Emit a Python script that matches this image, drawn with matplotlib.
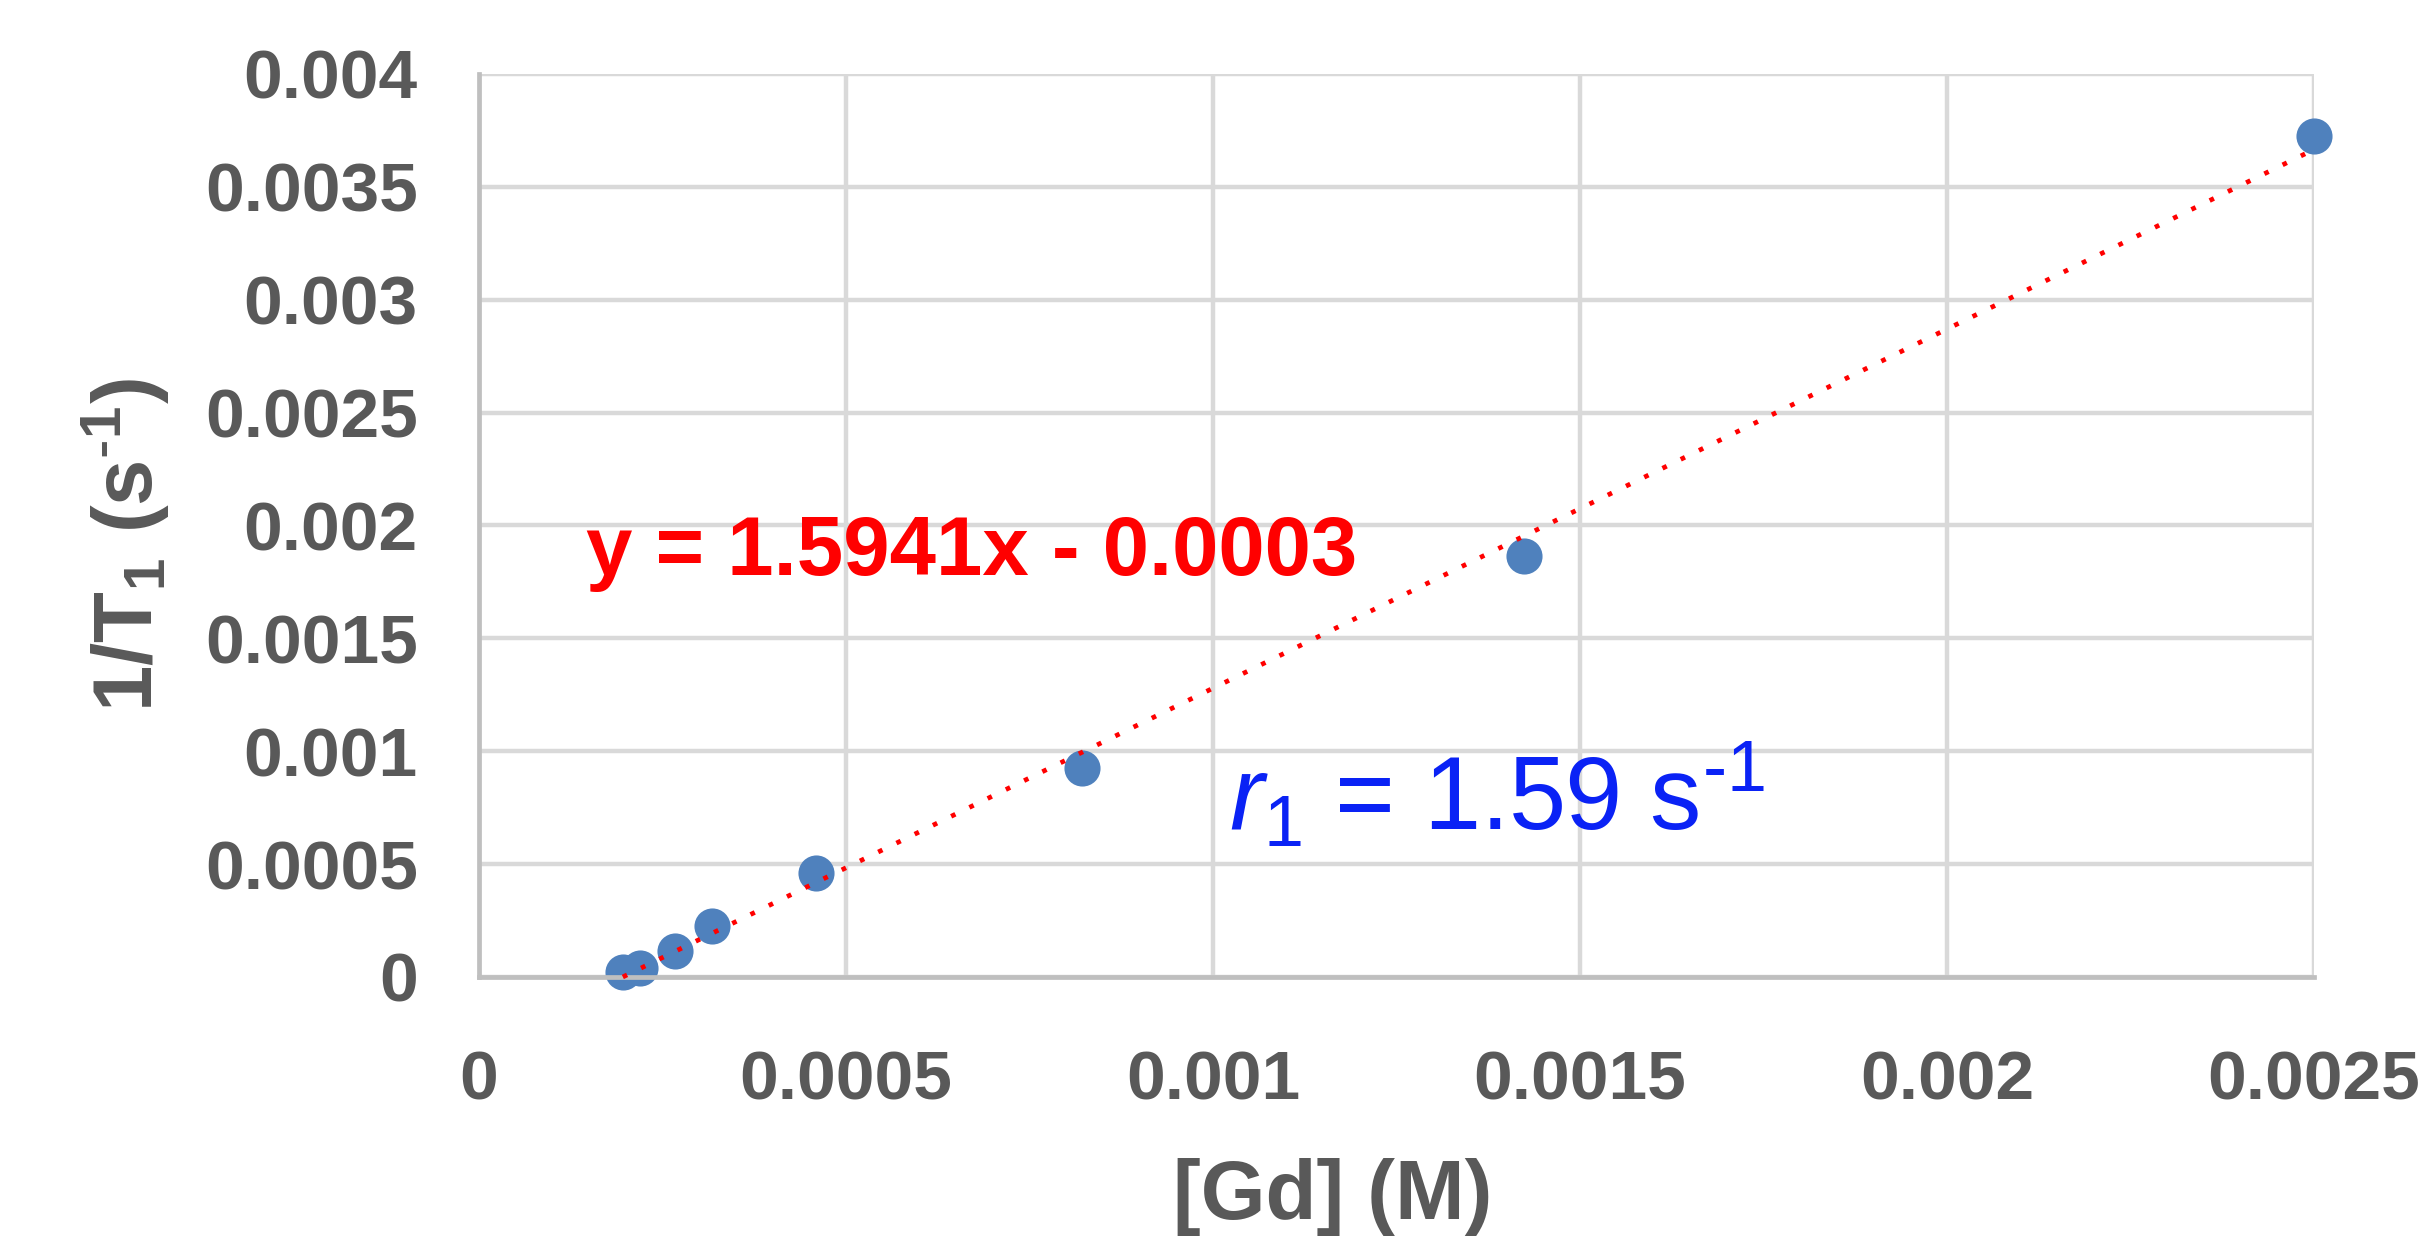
import numpy as np
import matplotlib
matplotlib.use("Agg")
import matplotlib.pyplot as plt

# data
gd_conc = [0.000196, 0.000219, 0.000267, 0.000318, 0.000459, 0.000821, 0.001424, 0.0025]
inv_t1 = [0.00002, 0.00004, 0.000116, 0.000226, 0.000459, 0.000925, 0.001863, 0.003726]

x_ticks = [0, 0.0005, 0.001, 0.0015, 0.002, 0.0025]
x_tick_labels = ["0", "0.0005", "0.001", "0.0015", "0.002", "0.0025"]
y_ticks = [0, 0.0005, 0.001, 0.0015, 0.002, 0.0025, 0.003, 0.0035, 0.004]
y_tick_labels = ["0", "0.0005", "0.001", "0.0015", "0.002", "0.0025", "0.003", "0.0035", "0.004"]

equation_text = "y = 1.5941x - 0.0003"
r1_text = r"$\mathit{r}_\mathrm{1}$ = 1.59 s$^{\text{-1}}$"

TEXT_GREY = "#595959"
GRID_GREY = "#d9d9d9"
AXIS_GREY = "#bfbfbf"
POINT_BLUE = "#4f81bd"

plt.rcParams["font.family"] = ["Liberation Sans", "DejaVu Sans"]
plt.rcParams["mathtext.fontset"] = "custom"
plt.rcParams["mathtext.rm"] = "Liberation Sans"
plt.rcParams["mathtext.it"] = "Liberation Sans:italic"
plt.rcParams["mathtext.bf"] = "Liberation Sans:bold"


def main() -> None:
    fig = plt.figure(figsize=(24.24, 12.39), dpi=100)
    ax = fig.add_axes([0.1976, 0.2115, 0.7570, 0.7288])

    ax.set_xlim(0, 0.0025)
    ax.set_ylim(0, 0.004)
    ax.set_xticks(x_ticks)
    ax.set_xticklabels(x_tick_labels)
    ax.set_yticks(y_ticks)
    ax.set_yticklabels(y_tick_labels)

    ax.grid(True, color=GRID_GREY, linewidth=3.2, zorder=0)
    ax.set_axisbelow(True)
    for side in ("top", "right"):
        ax.spines[side].set_visible(False)
    for side in ("left", "bottom"):
        ax.spines[side].set_color(AXIS_GREY)
        ax.spines[side].set_linewidth(3.4)

    ax.tick_params(axis="x", length=0, pad=52, labelsize=50, labelcolor=TEXT_GREY)
    ax.tick_params(axis="y", length=0, pad=44, labelsize=50, labelcolor=TEXT_GREY)
    for lbl in ax.get_xticklabels() + ax.get_yticklabels():
        lbl.set_fontweight("bold")

    # linear fit, drawn over the data range like the spreadsheet trendline
    slope, intercept = np.polyfit(gd_conc, inv_t1, 1)
    fit_x = np.array([min(gd_conc), max(gd_conc)])
    ax.plot(fit_x, slope * fit_x + intercept, color="#ff0000", linewidth=3.4,
            linestyle=(0, (1, 3.3)), zorder=3, clip_on=False)

    ax.plot(gd_conc, inv_t1, linestyle="none", marker="o", markersize=26,
            color=POINT_BLUE, markeredgewidth=0, zorder=2, clip_on=False)

    ax.text(0.0001458, 0.001781, equation_text, color="#ff0000", fontsize=60,
            fontweight="bold", va="baseline", ha="left", zorder=4)
    ax.text(0.001022, 0.000647, r1_text, color="#0a22f5", fontsize=74,
            va="baseline", ha="left", zorder=4)

    xl = ax.set_xlabel("[Gd] (M)", fontsize=60, fontweight="bold", color=TEXT_GREY)
    xl.set_va("baseline")
    ax.xaxis.set_label_coords(0.465, -0.268)

    yl = ax.set_ylabel(r"1/T$_\mathbf{1}$ (s$^{\text{-}\mathbf{1}}$)", fontsize=60,
                       fontweight="bold", color=TEXT_GREY)
    yl.set_va("center")
    ax.yaxis.set_label_coords(-0.1924, 0.478)

    fig.savefig("out.png", dpi=100, facecolor="white")


if __name__ == "__main__":
    main()
